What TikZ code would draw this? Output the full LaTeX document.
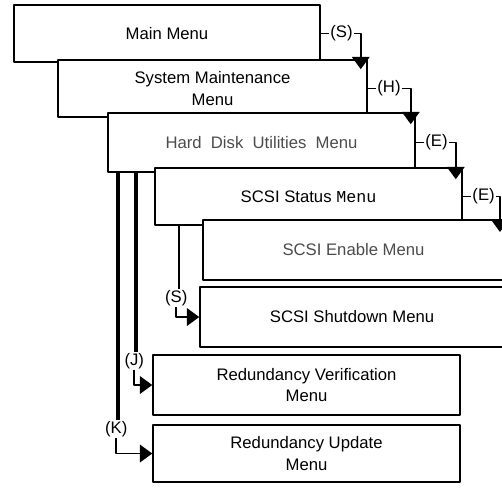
\documentclass[tikz,border=0pt]{standalone}
\usepackage{fontspec}
\setmainfont{Liberation Sans}
\newfontfamily\menumono{Liberation Mono}
\usetikzlibrary{arrows.meta,calc}

\begin{document}
\begin{tikzpicture}[x=0.02cm,y=-0.02cm,line join=round,
    menu/.style={draw,fill=white,line width=0.9pt,align=center,inner sep=0pt,
      font=\fontsize{9.5}{12.5}\selectfont},
    faint/.style={text=black!70},
    inset/.style={inner sep=0pt,font=\fontsize{9.5}{12.5}\selectfont,xshift=-0.26cm},
    key/.style={inner sep=0.5pt,font=\fontsize{9.5}{11}\selectfont},
    link/.style={line width=0.9pt},
    tip/.style={link,-{Triangle[length=7pt,width=10pt]}},
    trunk/.style={line width=2.2pt}]
  \useasboundingbox (0,0) rectangle (502,488);
  \clip (0,0) rectangle (502,488);
  % menus, back to front
  \node[menu,minimum width=6.12cm,minimum height=1.14cm] (main) at (167,33.5) {Main Menu};
  \node[menu,minimum width=6.18cm,minimum height=1.14cm] (sysm) at (212.5,88.5) {System Maintenance\\Menu};
  \node[menu,faint,minimum width=6.14cm,minimum height=1.18cm] (hdu) at (261.5,142.5) {Hard\ \ Disk\ \ Utilities\ \ Menu};
  \node[menu,minimum width=6.14cm,minimum height=1.14cm] (status) at (308.5,196.5) {SCSI Status {\menumono Menu}};
  \node[menu,minimum width=6.54cm,minimum height=1.2cm,
    label={[inset,faint]center:SCSI Enable Menu}] (enable) at (366.5,250) {};
  \node[menu,minimum width=6.6cm,minimum height=1.2cm,
    label={[inset]center:SCSI Shutdown Menu}] (shut) at (365,317) {};
  \node[menu,minimum width=6.14cm,minimum height=1.2cm] (verif) at (306.5,385) {Redundancy Verification\\Menu};
  \node[menu,minimum width=6.14cm,minimum height=1.14cm] (upd) at (306.5,453.5) {Redundancy Update\\Menu};

  % keys along the right side
  \coordinate (t1) at ($(sysm.north east)+(-7,10)$);
  \coordinate (t2) at ($(hdu.north east)+(-5,12)$);
  \coordinate (t3) at ($(status.north east)+(-7,12)$);
  \coordinate (t4) at (500,232);
  \draw[link] (main.east) -- ++(8,0) node[key,anchor=west] (kS) {(S)};
  \draw[tip] (kS.east) -| (t1);
  \draw[link] (sysm.east) -- ++(8,0) node[key,anchor=west] (kH) {(H)};
  \draw[tip] (kH.east) -| (t2);
  \draw[link] (hdu.east) -- ++(8,0) node[key,anchor=west] (kE) {(E)};
  \draw[tip] (kE.east) -| (t3);
  \draw[link] (status.east) -- ++(8,0) node[key,anchor=west] (kEe) {(E)};
  \draw[tip] (kEe.east) -| (t4);

  % keys down the left side
  \coordinate (s0) at ($(status.south west)+(25,0)$);
  \coordinate (j0) at ($(hdu.south west)+(29,0)$);
  \coordinate (k0) at ($(hdu.south west)+(11,0)$);
  \node[key] (kSd) at ($(s0)+(-3,72)$) {(S)};
  \node[key] (kJ) at ($(j0)+(-2,188)$) {(J)};
  \node[key] (kK) at ($(k0)+(-2,256)$) {(K)};
  \draw[link] (s0) -- (s0 |- kSd.north);
  \draw[tip] (kSd.south) |- (shut.west);
  \draw[trunk] (j0) -- (j0 |- kJ.north);
  \draw[tip] (kJ.south) |- (verif.west);
  \draw[trunk] (k0) -- (k0 |- kK.north);
  \draw[tip] (kK.south) |- (upd.west);
\end{tikzpicture}
\end{document}
